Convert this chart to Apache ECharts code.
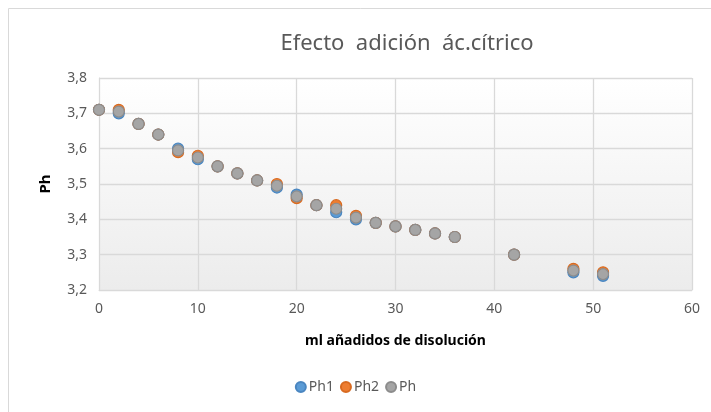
<!DOCTYPE html>
<html>
<head>
<meta charset="utf-8">
<script src="https://cdn.jsdelivr.net/npm/echarts@6/dist/echarts.min.js"></script>
<style>
  html, body { margin: 0; padding: 0; background: #fff; }
  #chart { width: 711px; height: 412px; }
</style>
</head>
<body>
<div id="chart"></div>
<script>
// datos (ml añadidos, pH)
const mlPh1 = [0, 2, 4, 6, 8, 10, 12, 14, 16, 18, 20, 22, 24, 26, 28, 30, 32, 34, 36, 42, 48, 51]
const valPh1 = [3.71, 3.70, 3.67, 3.64, 3.60, 3.57, 3.55, 3.53, 3.51, 3.49, 3.47, 3.44, 3.42, 3.40, 3.39, 3.38, 3.37, 3.36, 3.35, 3.30, 3.25, 3.24]
const mlPh2 = [0, 2, 4, 6, 8, 10, 12, 14, 16, 18, 20, 22, 24, 26, 28, 30, 32, 34, 36, 42, 48, 51]
const valPh2 = [3.71, 3.71, 3.67, 3.64, 3.59, 3.58, 3.55, 3.53, 3.51, 3.50, 3.46, 3.44, 3.44, 3.41, 3.39, 3.38, 3.37, 3.36, 3.35, 3.30, 3.26, 3.25]
const mlPh = [0, 2, 4, 6, 8, 10, 12, 14, 16, 18, 20, 22, 24, 26, 28, 30, 32, 34, 36, 42, 48, 51]
const valPh = [3.71, 3.705, 3.67, 3.64, 3.595, 3.575, 3.55, 3.53, 3.51, 3.495, 3.465, 3.44, 3.43, 3.405, 3.39, 3.38, 3.37, 3.36, 3.35, 3.30, 3.255, 3.245]

const pairs = (xs, ys) => xs.map((x, i) => [x, ys[i]])

const fontFam = 'Noto Sans'
const chart = echarts.init(document.getElementById('chart'))

const makeSeries = (name, data, color, border) => ({
  name: name,
  type: 'scatter',
  data: data,
  symbol: 'circle',
  symbolSize: 11,
  itemStyle: { color: color, borderColor: border, borderWidth: 1.2, opacity: 1 }
})

chart.setOption({
  animation: false,
  textStyle: { fontFamily: fontFam },
  title: {
    text: 'Efecto  adición  ác.cítrico',
    left: 402,
    top: 28,
    textAlign: 'center',
    textStyle: { fontFamily: fontFam, fontSize: 22, fontWeight: 'normal', color: '#595959' }
  },
  graphic: [
    {
      type: 'rect',
      silent: true,
      shape: { x: 8.5, y: 8.5, width: 740, height: 440 },
      style: { fill: 'none', stroke: '#d9d9d9', lineWidth: 1 }
    }
  ],
  legend: {
    left: 'center',
    top: 375,
    icon: 'circle',
    itemWidth: 10,
    itemHeight: 10,
    itemGap: 6,
    textStyle: { fontFamily: fontFam, fontSize: 14, color: '#595959', padding: [0, 0, 0, -2] },
    data: ['Ph1', 'Ph2', 'Ph']
  },
  grid: {
    left: 99,
    right: 19,
    top: 78,
    bottom: 122,
    show: true,
    borderWidth: 0,
    backgroundColor: new echarts.graphic.LinearGradient(0, 0, 0, 1, [
      { offset: 0, color: '#ffffff' },
      { offset: 1, color: '#ececec' }
    ])
  },
  xAxis: {
    type: 'value',
    min: 0,
    max: 60,
    interval: 10,
    name: 'ml añadidos de disolución',
    nameLocation: 'middle',
    nameGap: 44,
    nameTextStyle: { fontFamily: fontFam, fontSize: 14, fontWeight: 'bold', color: '#000' },
    axisLine: { show: true, lineStyle: { color: '#d9d9d9' } },
    axisTick: { show: false },
    axisLabel: { fontSize: 14, color: '#595959', margin: 12 },
    splitLine: { show: true, lineStyle: { color: '#d9d9d9', width: 1.3 } }
  },
  yAxis: {
    type: 'value',
    min: 3.2,
    max: 3.8,
    interval: 0.1,
    name: 'Ph',
    nameLocation: 'middle',
    nameGap: 46,
    nameRotate: 90,
    nameTextStyle: { fontFamily: fontFam, fontSize: 15, fontWeight: 'bold', color: '#000' },
    axisLine: { show: true, lineStyle: { color: '#d9d9d9' } },
    axisTick: { show: false },
    axisLabel: {
      fontSize: 14,
      color: '#595959',
      margin: 12,
      formatter: (v) => v.toFixed(1).replace('.', ',')
    },
    splitLine: { show: true, lineStyle: { color: '#d9d9d9', width: 1.3 } }
  },
  series: [
    makeSeries('Ph1', pairs(mlPh1, valPh1), '#5b9bd5', '#4a86c0'),
    makeSeries('Ph2', pairs(mlPh2, valPh2), '#ed7d31', '#d86a20'),
    makeSeries('Ph', pairs(mlPh, valPh), '#a5a5a5', '#8c8c8c')
  ]
})
</script>
</body>
</html>
